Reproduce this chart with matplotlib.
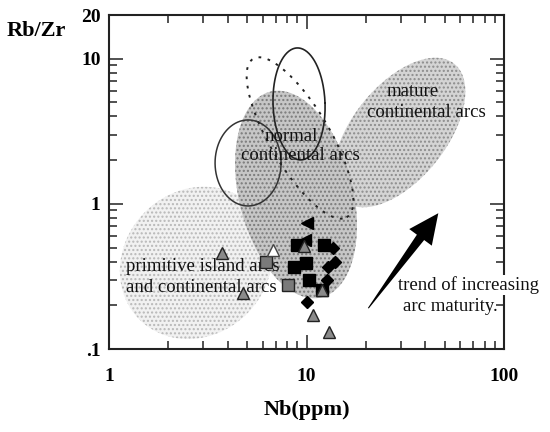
import numpy as np
import matplotlib
matplotlib.use("Agg")
import matplotlib.pyplot as plt

# ---- sample data: Nb (ppm) and Rb/Zr ----
sq_black_nb = [8.95, 12.27, 8.64, 9.94, 10.30, 11.98]
sq_black_rz = [0.521, 0.521, 0.368, 0.392, 0.299, 0.255]

dia_nb = [13.62, 13.94, 12.85, 12.70, 10.06]
dia_rz = [0.497, 0.398, 0.368, 0.299, 0.211]

ltri_nb = [10.06, 9.83]
ltri_rz = [0.739, 0.564]

tri_gray_nb = [3.735, 4.77, 9.71, 11.98, 10.79, 13.00]
tri_gray_rz = [0.459, 0.2435, 0.513, 0.255, 0.1717, 0.1312]

tri_open_nb = [6.77]
tri_open_rz = [0.482]

sq_gray_nb = [6.235, 8.06]
sq_gray_rz = [0.398, 0.276]

x_ticks = [1, 10, 100]
x_ticklabels = ["1", "10", "100"]
y_ticks = [0.1, 1, 10, 20]
y_ticklabels = [".1", "1", "10", "20"]

SERIF = ["Liberation Serif", "DejaVu Serif"]

fig = plt.figure(figsize=(5.5, 4.32), dpi=100)
ax = fig.add_axes([109 / 550, 83 / 432, 395 / 550, 334 / 432])
ax.set_xscale("log")
ax.set_yscale("log")
ax.set_xlim(1, 100)
ax.set_ylim(0.1, 20)


def ellipse(cx, cy, rx, ry, ang, n=240):
    """Ellipse outline given a data-space centre and display-space radii."""
    c = ax.transData.transform((cx, cy))
    t = np.linspace(0, 2 * np.pi, n)
    a = np.deg2rad(ang)
    x, y = rx * np.cos(t), ry * np.sin(t)
    X = c[0] + x * np.cos(a) - y * np.sin(a)
    Y = c[1] + x * np.sin(a) + y * np.cos(a)
    pts = ax.transData.inverted().transform(np.column_stack([X, Y]))
    return pts[:, 0], pts[:, 1]


# ---- tectonic fields ----
px, py = ellipse(2.757, 0.392, 80, 72, 45)
ax.fill(px, py, facecolor="#f1f1f1", edgecolor="#b8b8b8", hatch="....",
        linewidth=0, zorder=1)

px, py = ellipse(29.5, 3.10, 88, 47, 51.4)
ax.fill(px, py, facecolor="#d4d4d4", edgecolor="#8c8c8c", hatch="....",
        linewidth=0, zorder=1.1)

px, py = ellipse(8.85, 1.16, 106, 57, -76)
ax.fill(px, py, facecolor="#c6c6c6", edgecolor="#7a7a7a", hatch="....",
        linewidth=0, zorder=1.2)

# outlines
px, py = ellipse(5.06, 1.913, 33, 43, 0)
ax.plot(px, py, color="#333333", lw=1.1, zorder=2)
px, py = ellipse(9.166, 4.88, 26, 56, 2)
ax.plot(px, py, color="#222222", lw=1.2, zorder=2)
px, py = ellipse(9.27, 2.843, 92, 30, -59.5)
ax.plot(px, py, color="#222222", lw=1.4, ls=(0, (1.4, 3.4)), zorder=2)

# ---- trend arrow ----
tail = ax.transData.transform((20.56, 0.191))
tip = ax.transData.transform((46.5, 0.862))
d = tip - tail
L = np.hypot(*d)
u = d / L
n = np.array([-u[1], u[0]])
head_len, head_w, shaft_w = 30, 14, 4.5
base = tip - u * head_len
poly = np.array([
    tail + n * 0.5,
    base + n * shaft_w,
    base + n * head_w,
    tip,
    base - n * head_w,
    base - n * shaft_w,
    tail - n * 0.5,
])
poly = ax.transData.inverted().transform(poly)
ax.fill(poly[:, 0], poly[:, 1], color="black", lw=0, zorder=3)

# ---- field labels ----
tkw = dict(family=SERIF, fontsize=13.5, color="#111111", zorder=3)
ax.text(34.6, 5.90, "mature", ha="center", va="center", **tkw)
ax.text(40.3, 4.23, "continental arcs", ha="center", va="center", **tkw)
ax.text(8.35, 2.89, "normal", ha="center", va="center", **tkw)
ax.text(9.27, 2.14, "continental arcs", ha="center", va="center", **tkw)
ax.text(1.219, 0.368, "primitive island arcs", ha="left", va="center", **tkw)
ax.text(1.219, 0.2636, "and continental arcs", ha="left", va="center", **tkw)
bkw = dict(tkw, zorder=6)
ax.text(29.07, 0.2764, "trend of increasing", ha="left", va="center",
        clip_on=False, bbox=dict(facecolor="white", edgecolor="none", pad=0.5),
        **bkw)
ax.text(30.8, 0.195, "arc maturity.", ha="left", va="center", **tkw)

# ---- samples ----
ax.plot(sq_black_nb, sq_black_rz, ls="none", marker="s", ms=8.8,
        mfc="black", mec="black", zorder=4)
ax.plot(dia_nb, dia_rz, ls="none", marker="D", ms=5.8,
        mfc="black", mec="black", zorder=4)
ax.plot(ltri_nb, ltri_rz, ls="none", marker="<", ms=8.5,
        mfc="black", mec="black", zorder=4)
ax.plot(sq_gray_nb, sq_gray_rz, ls="none", marker="s", ms=8,
        mfc="#7a7a7a", mec="#222222", mew=1, zorder=4.5)
ax.plot(tri_gray_nb, tri_gray_rz, ls="none", marker="^", ms=8.8,
        mfc="#8a8a8a", mec="#222222", mew=1, zorder=4.6)
ax.plot(tri_open_nb, tri_open_rz, ls="none", marker="^", ms=8.8,
        mfc="white", mec="#444444", mew=1, zorder=4.6)

# ---- axes styling ----
for s in ax.spines.values():
    s.set_linewidth(1.5)
    s.set_color("#222222")
    s.set_zorder(5)

ax.set_xticks(x_ticks)
ax.set_xticklabels(x_ticklabels)
ax.set_yticks(y_ticks)
ax.set_yticklabels(y_ticklabels)
ax.tick_params(which="both", direction="in", top=True, right=True,
               color="#222222", width=1.1)
ax.tick_params(which="major", length=10)
ax.tick_params(which="minor", length=5.5)
ax.tick_params(axis="x", which="major", pad=14)
ax.tick_params(axis="y", which="major", pad=6)
for lab in ax.get_xticklabels() + ax.get_yticklabels():
    lab.set_fontfamily(SERIF)
    lab.set_fontweight("bold")
    lab.set_fontsize(14)

fig.text(307 / 550, 1 - 410 / 432, "Nb(ppm)", ha="center", va="center",
         family=SERIF, fontweight="bold", fontsize=16)
fig.text(7 / 550, 1 - 31 / 432, "Rb/Zr", ha="left", va="center",
         family=SERIF, fontweight="bold", fontsize=16)

fig.savefig("out.png", dpi=100)
